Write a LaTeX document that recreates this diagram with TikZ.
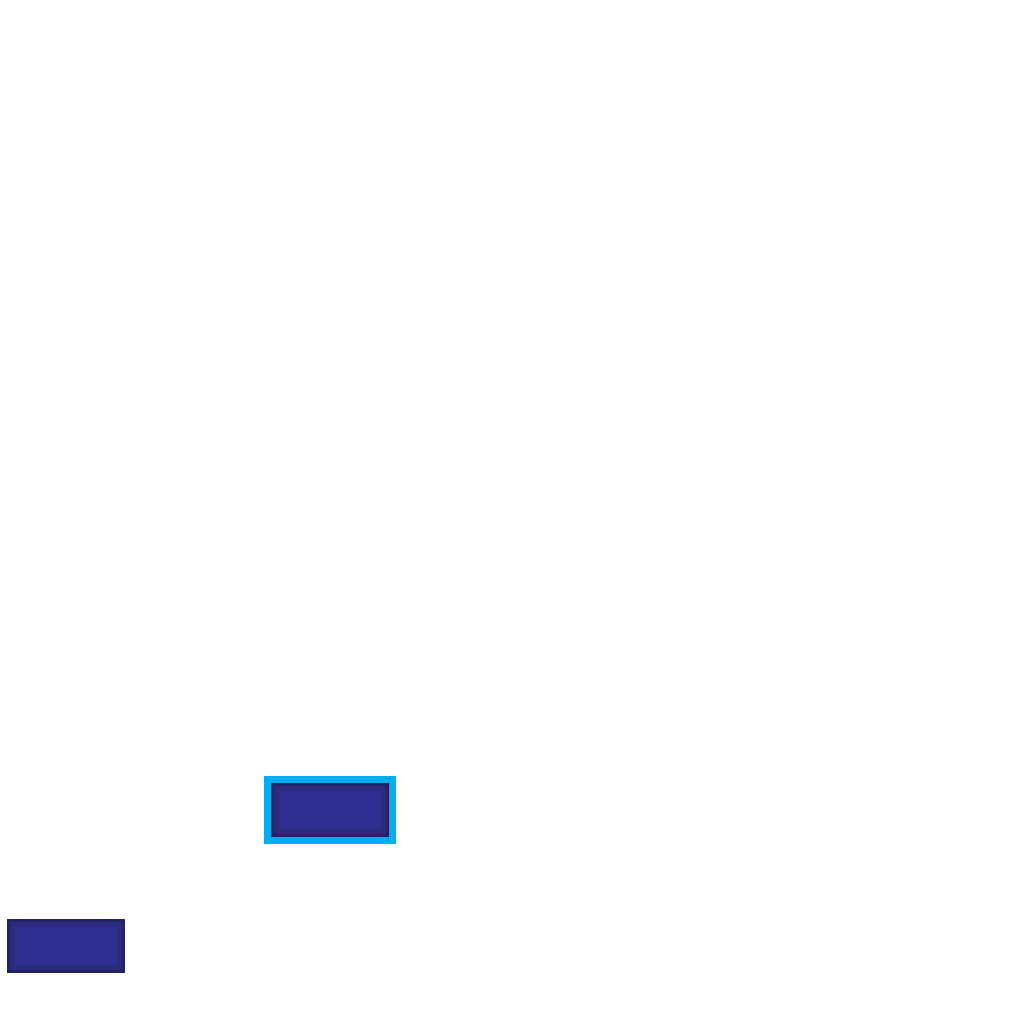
\documentclass[tikz,border=0pt]{standalone}
\usetikzlibrary{positioning}

\begin{document}
\begin{tikzpicture}
\definecolor{slotfill}{RGB}{46,49,146}
\definecolor{slotband}{RGB}{42,43,124}
\definecolor{slotrim}{RGB}{34,35,102}
\definecolor{pickcyan}{RGB}{0,174,239}
\tikzset{
  slot/.style={rectangle,inner sep=0pt,minimum width=1.07cm,minimum height=0.43cm,
    fill=slotfill,draw=slotband,line width=0.05cm,
    preaction={draw=slotrim,line width=0.11cm}},
  picked/.style={preaction={draw=pickcyan,line width=0.25cm,line join=miter}}
}

\useasboundingbox (0,0) rectangle (10.24,10.24);

% Selected slot and plain slot.
\node[picked,slot] (active) at (3.30,2.14) {};
\node[slot] (idle) at (0.66,0.78) {};
\end{tikzpicture}
\end{document}
